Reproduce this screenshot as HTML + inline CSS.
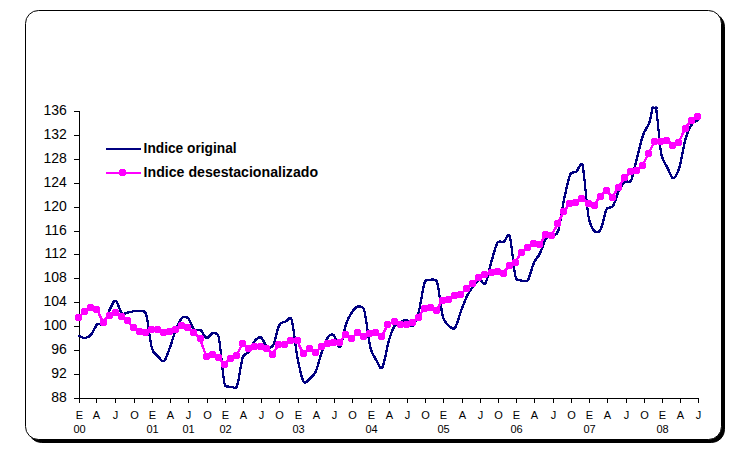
<!DOCTYPE html><html><head><meta charset="utf-8"><title>Indice</title><style>
html,body{margin:0;padding:0;background:#fff;}svg{display:block;}text{font-family:"Liberation Sans",sans-serif;fill:#000;}
</style></head><body>
<svg width="741" height="460" viewBox="0 0 741 460">
<rect width="741" height="460" fill="#fff"/>
<rect x="28.5" y="13.5" width="696" height="429" rx="13" ry="13" fill="#000" stroke="#000" stroke-width="1"/>
<rect x="25.5" y="10.5" width="696" height="429" rx="13" ry="13" fill="#fff" stroke="#000" stroke-width="1"/>
<g stroke="#000" stroke-width="1" shape-rendering="crispEdges" fill="none">
<path d="M79.5 111V399"/>
<path d="M79 398.5H699"/>
<path d="M74 398.5H79"/>
<path d="M74 374.5H79"/>
<path d="M74 350.5H79"/>
<path d="M74 326.5H79"/>
<path d="M74 302.5H79"/>
<path d="M74 278.5H79"/>
<path d="M74 254.5H79"/>
<path d="M74 231.5H79"/>
<path d="M74 207.5H79"/>
<path d="M74 183.5H79"/>
<path d="M74 159.5H79"/>
<path d="M74 135.5H79"/>
<path d="M74 111.5H79"/>
<path d="M79.5 398V403"/>
<path d="M96.5 398V403"/>
<path d="M115.5 398V403"/>
<path d="M134.5 398V403"/>
<path d="M152.5 398V403"/>
<path d="M170.5 398V403"/>
<path d="M188.5 398V403"/>
<path d="M207.5 398V403"/>
<path d="M225.5 398V403"/>
<path d="M243.5 398V403"/>
<path d="M261.5 398V403"/>
<path d="M279.5 398V403"/>
<path d="M298.5 398V403"/>
<path d="M316.5 398V403"/>
<path d="M334.5 398V403"/>
<path d="M352.5 398V403"/>
<path d="M371.5 398V403"/>
<path d="M389.5 398V403"/>
<path d="M407.5 398V403"/>
<path d="M425.5 398V403"/>
<path d="M443.5 398V403"/>
<path d="M462.5 398V403"/>
<path d="M480.5 398V403"/>
<path d="M498.5 398V403"/>
<path d="M516.5 398V403"/>
<path d="M534.5 398V403"/>
<path d="M553.5 398V403"/>
<path d="M571.5 398V403"/>
<path d="M589.5 398V403"/>
<path d="M607.5 398V403"/>
<path d="M626.5 398V403"/>
<path d="M644.5 398V403"/>
<path d="M662.5 398V403"/>
<path d="M680.5 398V403"/>
<path d="M698.5 398V403"/>
</g>
<g font-size="14" text-anchor="end">
<text x="66.8" y="402">88</text>
<text x="66.8" y="378">92</text>
<text x="66.8" y="354">96</text>
<text x="66.8" y="330">100</text>
<text x="66.8" y="306">104</text>
<text x="66.8" y="282">108</text>
<text x="66.8" y="258">112</text>
<text x="66.8" y="235">116</text>
<text x="66.8" y="211">120</text>
<text x="66.8" y="187">124</text>
<text x="66.8" y="163">128</text>
<text x="66.8" y="139">132</text>
<text x="66.8" y="115">136</text>
</g>
<g font-size="11" text-anchor="middle">
<text x="79.5" y="418.5">E</text>
<text x="96.5" y="418.5">A</text>
<text x="115.5" y="418.5">J</text>
<text x="134.5" y="418.5">O</text>
<text x="152.5" y="418.5">E</text>
<text x="170.5" y="418.5">A</text>
<text x="188.5" y="418.5">J</text>
<text x="207.5" y="418.5">O</text>
<text x="225.5" y="418.5">E</text>
<text x="243.5" y="418.5">A</text>
<text x="261.5" y="418.5">J</text>
<text x="279.5" y="418.5">O</text>
<text x="298.5" y="418.5">E</text>
<text x="316.5" y="418.5">A</text>
<text x="334.5" y="418.5">J</text>
<text x="352.5" y="418.5">O</text>
<text x="371.5" y="418.5">E</text>
<text x="389.5" y="418.5">A</text>
<text x="407.5" y="418.5">J</text>
<text x="425.5" y="418.5">O</text>
<text x="443.5" y="418.5">E</text>
<text x="462.5" y="418.5">A</text>
<text x="480.5" y="418.5">J</text>
<text x="498.5" y="418.5">O</text>
<text x="516.5" y="418.5">E</text>
<text x="534.5" y="418.5">A</text>
<text x="553.5" y="418.5">J</text>
<text x="571.5" y="418.5">O</text>
<text x="589.5" y="418.5">E</text>
<text x="607.5" y="418.5">A</text>
<text x="626.5" y="418.5">J</text>
<text x="644.5" y="418.5">O</text>
<text x="662.5" y="418.5">E</text>
<text x="680.5" y="418.5">A</text>
<text x="698.5" y="418.5">J</text>
<text x="79.5" y="432.5">00</text>
<text x="152.5" y="432.5">01</text>
<text x="188.5" y="432.5">01</text>
<text x="225.5" y="432.5">02</text>
<text x="298.5" y="432.5">03</text>
<text x="371.5" y="432.5">04</text>
<text x="443.5" y="432.5">05</text>
<text x="516.5" y="432.5">06</text>
<text x="589.5" y="432.5">07</text>
<text x="662.5" y="432.5">08</text>
</g>
<defs><clipPath id="c"><rect x="70" y="106.5" width="640" height="300"/></clipPath></defs>
<defs><path id="bp" d="M79.20 336.00 C80.21 336.33 83.24 338.25 85.26 338.00 C87.28 337.75 89.31 336.83 91.33 334.50 C93.35 332.17 95.37 325.67 97.39 324.00 C99.41 322.33 101.46 326.80 103.45 324.50 C105.47 322.17 107.49 314.00 109.52 310.00 C111.54 306.00 113.56 300.00 115.58 300.50 C117.60 301.00 119.62 311.00 121.64 313.00 C123.66 315.00 125.68 312.78 127.70 312.50 C129.72 312.22 131.75 311.55 133.77 311.30 C135.79 311.05 137.81 310.67 139.83 311.00 C141.85 311.33 144.90 310.21 145.89 313.30 C147.91 319.55 149.93 341.33 151.96 348.50 C153.30 353.25 156.00 354.22 158.02 356.30 C160.04 358.38 162.06 362.58 164.08 361.00 C166.10 359.42 168.12 352.20 170.14 346.80 C172.17 341.40 174.19 333.43 176.21 328.60 C178.23 323.77 180.25 319.48 182.27 317.80 C184.29 316.12 186.31 316.47 188.33 318.50 C190.36 320.53 192.38 328.08 194.40 330.00 C196.42 331.92 198.44 328.67 200.46 330.00 C202.48 331.33 204.50 337.47 206.52 338.00 C208.54 338.53 210.56 333.42 212.59 333.20 C214.61 332.98 217.84 333.29 218.65 336.70 C220.67 345.25 222.69 376.17 224.71 384.50 C225.47 387.63 228.75 386.37 230.77 386.70 C232.80 387.03 235.69 389.31 236.84 386.50 C238.86 381.55 240.88 362.82 242.90 357.00 C244.23 353.17 246.94 354.30 248.96 351.60 C250.98 348.90 253.01 343.13 255.03 340.80 C257.05 338.47 259.07 336.52 261.09 337.60 C263.11 338.68 265.13 346.07 267.15 347.30 C269.17 348.53 271.67 347.85 273.22 345.00 C275.24 341.28 277.26 328.90 279.28 325.00 C280.88 321.91 283.32 322.60 285.34 321.60 C287.36 320.60 290.35 315.87 291.40 319.00 C293.43 324.98 295.45 347.07 297.47 357.50 C299.49 367.93 301.51 378.00 303.53 381.60 C305.14 384.46 307.57 380.75 309.59 379.10 C311.62 377.45 313.69 376.06 315.66 371.70 C317.68 367.23 319.70 358.03 321.72 352.30 C323.74 346.57 325.76 340.13 327.78 337.30 C329.64 334.70 331.82 333.65 333.85 335.30 C335.87 336.95 337.89 349.03 339.91 347.20 C341.93 345.37 343.95 330.15 345.97 324.30 C347.99 318.45 350.01 315.07 352.03 312.10 C354.06 309.13 356.08 306.83 358.10 306.50 C360.12 306.17 363.15 306.72 364.16 310.10 C366.18 316.85 368.20 338.63 370.22 347.00 C371.94 354.10 374.27 356.88 376.29 360.30 C378.31 363.72 380.33 370.50 382.35 367.50 C384.37 364.50 386.39 349.23 388.41 342.30 C390.43 335.37 392.45 329.23 394.48 325.90 C396.30 322.89 398.52 323.25 400.54 322.30 C402.56 321.35 404.58 319.55 406.60 320.20 C408.62 320.85 410.64 327.57 412.66 326.20 C414.69 324.83 416.71 319.35 418.73 312.00 C420.75 304.65 422.77 287.48 424.79 282.10 C425.94 279.05 428.83 279.80 430.85 279.70 C432.88 279.60 435.94 278.49 436.92 281.50 C438.94 287.75 440.96 309.78 442.98 317.20 C444.38 322.36 447.02 324.27 449.04 326.00 C451.06 327.73 453.17 330.07 455.11 327.60 C457.13 325.02 459.15 315.83 461.17 310.50 C463.19 305.17 465.21 299.65 467.23 295.60 C469.25 291.55 471.27 288.90 473.29 286.20 C475.32 283.50 477.34 279.90 479.36 279.40 C481.38 278.90 483.42 286.17 485.42 283.20 C487.44 280.20 489.46 268.18 491.48 261.40 C493.50 254.62 495.53 245.75 497.55 242.50 C499.16 239.91 501.59 243.02 503.61 241.90 C505.63 240.78 508.29 231.73 509.67 235.80 C511.69 241.75 513.72 270.13 515.74 277.60 C516.62 280.86 519.78 280.17 521.80 280.60 C523.82 281.03 526.15 282.71 527.86 280.20 C529.88 277.23 531.90 267.28 533.92 262.80 C535.95 258.32 537.97 257.35 539.99 253.30 C542.01 249.25 544.03 241.35 546.05 238.50 C547.93 235.86 550.09 237.42 552.11 236.20 C554.13 234.98 556.97 234.94 558.18 231.20 C560.20 224.92 562.22 207.95 564.24 198.50 C566.26 189.05 568.28 179.00 570.30 174.50 C571.69 171.41 574.35 173.08 576.37 171.50 C578.39 169.92 581.27 160.71 582.43 165.00 C584.45 172.48 586.47 205.35 588.49 216.40 C589.94 224.31 592.53 229.12 594.56 231.30 C596.58 233.48 599.11 232.28 600.62 229.50 C602.64 225.78 604.66 212.87 606.68 209.00 C608.22 206.06 610.89 209.05 612.74 206.30 C614.76 203.30 616.79 195.05 618.81 191.00 C620.83 186.95 622.85 183.70 624.87 182.00 C626.89 180.30 629.54 183.56 630.93 180.80 C632.95 176.80 634.98 165.63 637.00 158.00 C639.02 150.37 641.04 140.78 643.06 135.00 C645.08 129.22 647.10 128.47 649.12 123.30 C651.14 118.13 653.16 98.88 655.19 104.00 C657.21 109.12 659.23 143.42 661.25 154.00 C662.64 161.27 665.29 163.45 667.31 167.50 C669.33 171.55 671.35 178.37 673.37 178.30 C675.39 178.23 677.57 173.19 679.44 167.10 C681.46 160.52 683.48 145.87 685.50 138.80 C687.52 131.73 689.54 127.83 691.56 124.70 C693.58 121.57 696.62 120.78 697.63 120.00"/><path id="pp" d="M78.8 317.3 L84.8 311.2 L90.9 307.3 L96.9 309.3 L103.0 322.1 L109.1 315.0 L115.1 312.3 L121.2 316.3 L127.3 320.8 L133.3 327.8 L139.4 331.2 L145.4 332.3 L151.5 329.2 L157.6 329.2 L163.6 332.6 L169.7 331.0 L175.8 329.0 L181.8 325.2 L187.9 327.7 L193.9 332.7 L200.0 338.5 L206.1 356.2 L212.1 354.0 L218.2 357.2 L224.3 364.0 L230.3 358.8 L236.4 355.8 L242.5 343.5 L248.5 348.9 L254.6 346.9 L260.6 346.2 L266.7 348.0 L272.8 354.2 L278.8 344.0 L284.9 344.0 L291.0 340.6 L297.0 340.6 L303.1 353.0 L309.1 348.9 L315.2 352.6 L321.3 346.6 L327.3 343.2 L333.4 342.1 L339.5 342.0 L345.5 334.8 L351.6 338.3 L357.6 332.4 L363.7 336.2 L369.8 333.1 L375.8 332.4 L381.9 336.4 L388.0 324.3 L394.0 321.9 L400.1 324.3 L406.2 324.3 L412.2 322.2 L418.3 317.2 L424.3 308.8 L430.4 307.2 L436.5 310.2 L442.5 300.4 L448.6 299.0 L454.7 295.4 L460.7 294.3 L466.8 288.2 L472.8 283.4 L478.9 277.8 L485.0 274.9 L491.0 272.4 L497.1 271.8 L503.2 273.2 L509.2 265.5 L515.3 262.1 L521.3 252.7 L527.4 247.9 L533.5 243.2 L539.5 244.6 L545.6 234.9 L551.7 235.1 L557.7 223.6 L563.8 211.7 L569.9 203.2 L575.9 202.3 L582.0 198.2 L588.0 203.2 L594.1 205.4 L600.2 196.1 L606.2 190.0 L612.3 197.1 L618.4 187.6 L624.4 177.8 L630.5 171.8 L636.5 170.0 L642.6 165.0 L648.7 153.3 L654.7 141.4 L660.8 141.8 L666.9 140.0 L672.9 145.3 L679.0 142.1 L685.0 128.7 L691.1 120.4 L697.2 116.3"/></defs>
<g clip-path="url(#c)"><g fill="none" stroke="#000080" stroke-width="1.15" stroke-linejoin="round" stroke-linecap="square" shape-rendering="crispEdges"><use href="#bp" x="-0.5" y="-0.5"/><use href="#bp" x="0.5" y="-0.5"/><use href="#bp" x="-0.5" y="0.5"/><use href="#bp" x="0.5" y="0.5"/></g></g>
<path d="M652.6 107.5H657.6" stroke="#000080" stroke-width="2" shape-rendering="crispEdges"/>
<g fill="none" stroke="#ff00ff" stroke-width="1.15" stroke-linejoin="round" stroke-linecap="square" shape-rendering="crispEdges"><use href="#pp" x="-0.5" y="-0.5"/><use href="#pp" x="0.5" y="-0.5"/><use href="#pp" x="-0.5" y="0.5"/><use href="#pp" x="0.5" y="0.5"/></g>
<g fill="#ff00ff" shape-rendering="crispEdges">
<defs><path id="mk" d="M-2.5-3.5H2.5V-2.5H3.5V2.5H2.5V3.5H-2.5V2.5H-3.5V-2.5H-2.5Z"/></defs>
<use href="#mk" x="78.5" y="317.5"/>
<use href="#mk" x="84.5" y="311.5"/>
<use href="#mk" x="90.5" y="307.5"/>
<use href="#mk" x="96.5" y="309.5"/>
<use href="#mk" x="103.5" y="322.5"/>
<use href="#mk" x="109.5" y="315.5"/>
<use href="#mk" x="115.5" y="312.5"/>
<use href="#mk" x="121.5" y="316.5"/>
<use href="#mk" x="127.5" y="320.5"/>
<use href="#mk" x="133.5" y="327.5"/>
<use href="#mk" x="139.5" y="331.5"/>
<use href="#mk" x="145.5" y="332.5"/>
<use href="#mk" x="151.5" y="329.5"/>
<use href="#mk" x="157.5" y="329.5"/>
<use href="#mk" x="163.5" y="332.5"/>
<use href="#mk" x="169.5" y="331.5"/>
<use href="#mk" x="175.5" y="329.5"/>
<use href="#mk" x="181.5" y="325.5"/>
<use href="#mk" x="187.5" y="327.5"/>
<use href="#mk" x="193.5" y="332.5"/>
<use href="#mk" x="200.5" y="338.5"/>
<use href="#mk" x="206.5" y="356.5"/>
<use href="#mk" x="212.5" y="354.5"/>
<use href="#mk" x="218.5" y="357.5"/>
<use href="#mk" x="224.5" y="364.5"/>
<use href="#mk" x="230.5" y="358.5"/>
<use href="#mk" x="236.5" y="355.5"/>
<use href="#mk" x="242.5" y="343.5"/>
<use href="#mk" x="248.5" y="348.5"/>
<use href="#mk" x="254.5" y="346.5"/>
<use href="#mk" x="260.5" y="346.5"/>
<use href="#mk" x="266.5" y="348.5"/>
<use href="#mk" x="272.5" y="354.5"/>
<use href="#mk" x="278.5" y="344.5"/>
<use href="#mk" x="284.5" y="344.5"/>
<use href="#mk" x="290.5" y="340.5"/>
<use href="#mk" x="297.5" y="340.5"/>
<use href="#mk" x="303.5" y="353.5"/>
<use href="#mk" x="309.5" y="348.5"/>
<use href="#mk" x="315.5" y="352.5"/>
<use href="#mk" x="321.5" y="346.5"/>
<use href="#mk" x="327.5" y="343.5"/>
<use href="#mk" x="333.5" y="342.5"/>
<use href="#mk" x="339.5" y="342.5"/>
<use href="#mk" x="345.5" y="334.5"/>
<use href="#mk" x="351.5" y="338.5"/>
<use href="#mk" x="357.5" y="332.5"/>
<use href="#mk" x="363.5" y="336.5"/>
<use href="#mk" x="369.5" y="333.5"/>
<use href="#mk" x="375.5" y="332.5"/>
<use href="#mk" x="381.5" y="336.5"/>
<use href="#mk" x="387.5" y="324.5"/>
<use href="#mk" x="394.5" y="321.5"/>
<use href="#mk" x="400.5" y="324.5"/>
<use href="#mk" x="406.5" y="324.5"/>
<use href="#mk" x="412.5" y="322.5"/>
<use href="#mk" x="418.5" y="317.5"/>
<use href="#mk" x="424.5" y="308.5"/>
<use href="#mk" x="430.5" y="307.5"/>
<use href="#mk" x="436.5" y="310.5"/>
<use href="#mk" x="442.5" y="300.5"/>
<use href="#mk" x="448.5" y="299.5"/>
<use href="#mk" x="454.5" y="295.5"/>
<use href="#mk" x="460.5" y="294.5"/>
<use href="#mk" x="466.5" y="288.5"/>
<use href="#mk" x="472.5" y="283.5"/>
<use href="#mk" x="478.5" y="277.5"/>
<use href="#mk" x="484.5" y="274.5"/>
<use href="#mk" x="491.5" y="272.5"/>
<use href="#mk" x="497.5" y="271.5"/>
<use href="#mk" x="503.5" y="273.5"/>
<use href="#mk" x="509.5" y="265.5"/>
<use href="#mk" x="515.5" y="262.5"/>
<use href="#mk" x="521.5" y="252.5"/>
<use href="#mk" x="527.5" y="247.5"/>
<use href="#mk" x="533.5" y="243.5"/>
<use href="#mk" x="539.5" y="244.5"/>
<use href="#mk" x="545.5" y="234.5"/>
<use href="#mk" x="551.5" y="235.5"/>
<use href="#mk" x="557.5" y="223.5"/>
<use href="#mk" x="563.5" y="211.5"/>
<use href="#mk" x="569.5" y="203.5"/>
<use href="#mk" x="575.5" y="202.5"/>
<use href="#mk" x="581.5" y="198.5"/>
<use href="#mk" x="588.5" y="203.5"/>
<use href="#mk" x="594.5" y="205.5"/>
<use href="#mk" x="600.5" y="196.5"/>
<use href="#mk" x="606.5" y="190.5"/>
<use href="#mk" x="612.5" y="197.5"/>
<use href="#mk" x="618.5" y="187.5"/>
<use href="#mk" x="624.5" y="177.5"/>
<use href="#mk" x="630.5" y="171.5"/>
<use href="#mk" x="636.5" y="170.5"/>
<use href="#mk" x="642.5" y="165.5"/>
<use href="#mk" x="648.5" y="153.5"/>
<use href="#mk" x="654.5" y="141.5"/>
<use href="#mk" x="660.5" y="141.5"/>
<use href="#mk" x="666.5" y="140.5"/>
<use href="#mk" x="672.5" y="145.5"/>
<use href="#mk" x="678.5" y="142.5"/>
<use href="#mk" x="685.5" y="128.5"/>
<use href="#mk" x="691.5" y="120.5"/>
<use href="#mk" x="697.5" y="116.5"/>
</g>
<path d="M106 149H141" stroke="#000080" stroke-width="2" shape-rendering="crispEdges"/>
<path d="M106 173H141" stroke="#ff00ff" stroke-width="2" shape-rendering="crispEdges"/>
<use href="#mk" x="122.5" y="172.5" fill="#ff00ff" shape-rendering="crispEdges"/>
<g font-size="14" font-weight="bold"><text x="143.6" y="152.8" textLength="93" lengthAdjust="spacingAndGlyphs">Indice original</text><text x="143.6" y="176.8" textLength="174.5" lengthAdjust="spacingAndGlyphs">Indice desestacionalizado</text></g>
</svg></body></html>
